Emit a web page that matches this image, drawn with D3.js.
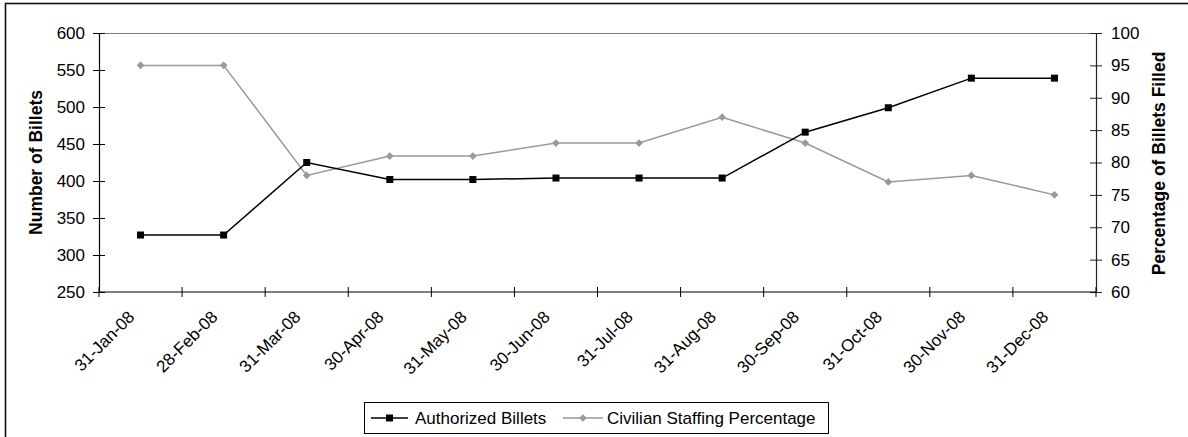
<!DOCTYPE html>
<html>
<head>
<meta charset="utf-8">
<script src="https://cdn.jsdelivr.net/npm/d3@7"></script>
<style>
  body { margin: 0; background: #fff; overflow: hidden; }
  text { font-family: "Liberation Sans", Arial, sans-serif; fill: #000; }
</style>
</head>
<body>
<div id="chart"></div>
<script>
// Chart data
const months = ["31-Jan-08", "28-Feb-08", "31-Mar-08", "30-Apr-08", "31-May-08", "30-Jun-08",
                "31-Jul-08", "31-Aug-08", "30-Sep-08", "31-Oct-08", "30-Nov-08", "31-Dec-08"];
const authorizedBillets = [327, 327, 425, 402, 402, 404, 404, 404, 466, 499, 539, 539];
const staffingPercent = [95, 95, 78, 81, 81, 83, 83, 87, 83, 77, 78, 75];
const leftTicks = [250, 300, 350, 400, 450, 500, 550, 600];
const rightTicks = [60, 65, 70, 75, 80, 85, 90, 95, 100];

const width = 1188;
const height = 437;
const plot = {left: 99, right: 1096, top: 33, bottom: 292};

const blackColor = "#000000";
const grayColor = "#999999";

const svg = d3.select("#chart")
    .append("svg")
    .attr("width", width)
    .attr("height", height)
    .style("display", "block");

// outer chart frame (runs off the right and bottom of the picture)
svg.append("rect")
    .attr("x", 5.5).attr("y", 3.5)
    .attr("width", 1300).attr("height", 600)
    .attr("fill", "none")
    .attr("stroke", "#111")
    .attr("stroke-width", 1.6);

// Scales
const x = d3.scaleBand()
    .domain(months)
    .range([plot.left, plot.right])
    .padding(0);

const yLeft = d3.scaleLinear().domain([250, 600]).range([plot.bottom, plot.top]);
const yRight = d3.scaleLinear().domain([60, 100]).range([plot.bottom, plot.top]);

const cx = d => x(d) + x.bandwidth() / 2;

// top border of the plot area
svg.append("line")
    .attr("x1", plot.left).attr("x2", plot.right)
    .attr("y1", plot.top + 0.5).attr("y2", plot.top + 0.5)
    .attr("stroke", "#808080")
    .attr("stroke-width", 1);

// Left axis
const leftAxis = svg.append("g")
    .attr("transform", "translate(" + plot.left + ",0)")
    .call(d3.axisLeft(yLeft).tickValues(leftTicks).tickSize(6).tickPadding(8));
leftAxis.select(".domain").attr("stroke", blackColor).attr("stroke-width", 1.2);
leftAxis.selectAll(".tick line").attr("x1", -6).attr("x2", 6).attr("stroke", blackColor);
leftAxis.selectAll(".tick text")
    .attr("x", -14)
    .style("font-size", "17px")
    .style("font-family", "'Liberation Sans', Arial, sans-serif");

// Right axis
const rightAxis = svg.append("g")
    .attr("transform", "translate(" + plot.right + ",0)")
    .call(d3.axisRight(yRight).tickValues(rightTicks).tickSize(6).tickPadding(8));
rightAxis.select(".domain").attr("stroke", "#222").attr("stroke-width", 1.2);
rightAxis.selectAll(".tick line").attr("x1", -6).attr("x2", 6).attr("stroke", "#222");
rightAxis.selectAll(".tick text")
    .attr("x", 15)
    .style("font-size", "17px")
    .style("font-family", "'Liberation Sans', Arial, sans-serif");

// Bottom axis: line, ticks between categories, rotated labels
svg.append("line")
    .attr("x1", plot.left).attr("x2", plot.right)
    .attr("y1", plot.bottom).attr("y2", plot.bottom)
    .attr("stroke", blackColor)
    .attr("stroke-width", 1.2);

const boundaries = months.map(d => x(d)).concat([x.range()[1]]);
svg.selectAll(".xtick")
    .data(boundaries)
    .enter().append("line")
    .attr("class", "xtick")
    .attr("x1", d => d).attr("x2", d => d)
    .attr("y1", plot.bottom - 5).attr("y2", plot.bottom + 5)
    .attr("stroke", blackColor);

svg.selectAll(".xlabel")
    .data(months)
    .enter().append("text")
    .attr("class", "xlabel")
    .attr("transform", d => "translate(" + (cx(d) - 5) + "," + (plot.bottom + 26) + ") rotate(-45)")
    .attr("text-anchor", "end")
    .style("font-size", "17px")
    .text(d => d);

// Axis titles
svg.append("text")
    .attr("transform", "translate(42," + ((plot.top + plot.bottom) / 2) + ") rotate(-90)")
    .attr("text-anchor", "middle")
    .style("font-size", "17.5px")
    .style("font-weight", "bold")
    .text("Number of Billets");

svg.append("text")
    .attr("transform", "translate(1165," + ((plot.top + plot.bottom) / 2 + 1) + ") rotate(-90)")
    .attr("text-anchor", "middle")
    .style("font-size", "17.5px")
    .style("font-weight", "bold")
    .text("Percentage of Billets Filled");

// Civilian staffing percentage (gray, diamonds, right axis)
const staffLine = d3.line()
    .x((d, i) => cx(months[i]))
    .y(d => yRight(d));

svg.append("path")
    .datum(staffingPercent)
    .attr("d", staffLine)
    .attr("fill", "none")
    .attr("stroke", grayColor)
    .attr("stroke-width", 1.5);

const diamond = d3.symbol().type(d3.symbolSquare).size(30);
svg.selectAll(".diamond")
    .data(staffingPercent)
    .enter().append("path")
    .attr("class", "diamond")
    .attr("d", diamond)
    .attr("transform", (d, i) => "translate(" + cx(months[i]) + "," + yRight(d) + ") rotate(45)")
    .attr("fill", grayColor);

// Authorized billets (black, squares, left axis)
const billetLine = d3.line()
    .x((d, i) => cx(months[i]))
    .y(d => yLeft(d));

svg.append("path")
    .datum(authorizedBillets)
    .attr("d", billetLine)
    .attr("fill", "none")
    .attr("stroke", blackColor)
    .attr("stroke-width", 1.5);

svg.selectAll(".square")
    .data(authorizedBillets)
    .enter().append("rect")
    .attr("class", "square")
    .attr("x", (d, i) => cx(months[i]) - 3.5)
    .attr("y", d => yLeft(d) - 3.5)
    .attr("width", 7)
    .attr("height", 7)
    .attr("fill", blackColor);

// Legend
const legend = svg.append("g");
legend.append("rect")
    .attr("x", 364.5).attr("y", 402.5)
    .attr("width", 464).attr("height", 31)
    .attr("fill", "#fff")
    .attr("stroke", blackColor)
    .attr("stroke-width", 1);

legend.append("line")
    .attr("x1", 371).attr("x2", 408).attr("y1", 418).attr("y2", 418)
    .attr("stroke", blackColor).attr("stroke-width", 1.5);
legend.append("rect")
    .attr("x", 386).attr("y", 414.5).attr("width", 7).attr("height", 7)
    .attr("fill", blackColor);
legend.append("text")
    .attr("x", 415).attr("y", 424)
    .style("font-size", "17px")
    .text("Authorized Billets");

legend.append("line")
    .attr("x1", 563).attr("x2", 603).attr("y1", 418).attr("y2", 418)
    .attr("stroke", grayColor).attr("stroke-width", 1.5);
legend.append("path")
    .attr("d", diamond)
    .attr("transform", "translate(583,418) rotate(45)")
    .attr("fill", grayColor);
legend.append("text")
    .attr("x", 607).attr("y", 424)
    .style("font-size", "17px")
    .text("Civilian Staffing Percentage");
</script>
</body>
</html>
